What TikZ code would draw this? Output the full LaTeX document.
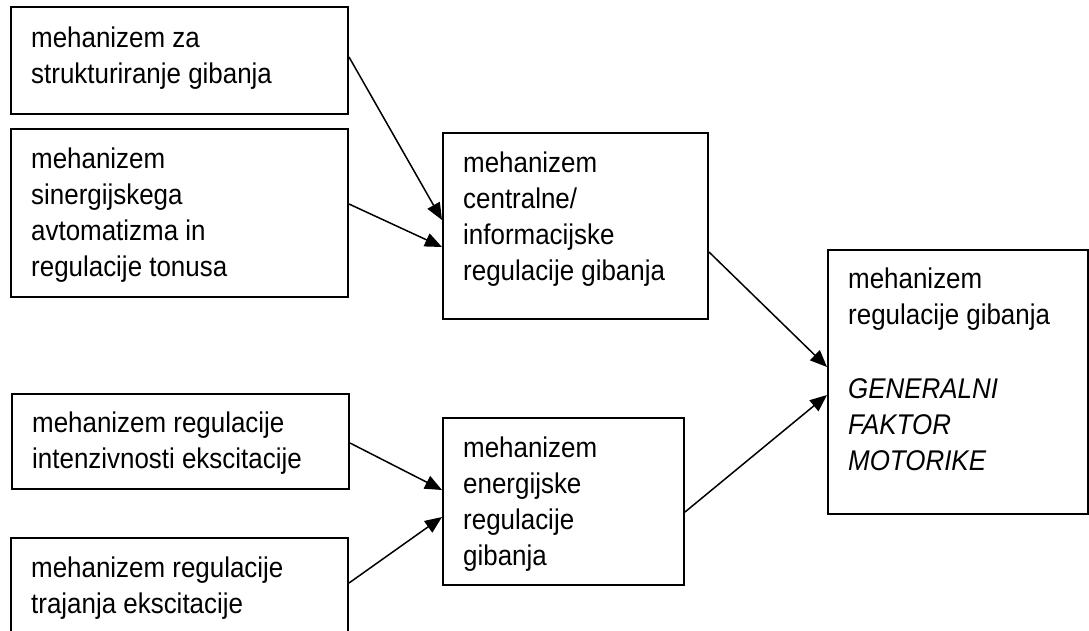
\documentclass[tikz,border=0pt]{standalone}
\usepackage{fontspec}
\setmainfont{Liberation Sans}[FakeStretch=0.91]
\usetikzlibrary{arrows.meta}
\tikzset{
  boxnode/.style={draw=black, line width=2pt, inner sep=0pt, anchor=north west, minimum width=#1},
  txt/.style={inner sep=0pt, anchor=north west, align=left, font=\fontsize{28.5}{36}\selectfont},
  conn/.style={line width=1.5pt, -{Triangle[length=17pt,width=14pt]}}
}
\newcommand{\topstrut}{\rule{0pt}{26pt}}
\begin{document}
\begin{tikzpicture}[x=1pt,y=-1pt]
\useasboundingbox (0,0) rectangle (1089,630);
\clip (0,0) rectangle (1089,630);
\fill[white] (0,0) rectangle (1089,630);
% boxes
\node[boxnode=337pt, minimum height=107pt] (b1) at (10,6) {};
\node[boxnode=337pt, minimum height=168pt] (b2) at (10,128) {};
\node[boxnode=265pt, minimum height=186pt] (b3) at (442,132) {};
\node[boxnode=260pt, minimum height=264pt] (b4) at (827,249) {};
\node[boxnode=337pt, minimum height=95pt] (b5) at (11,393) {};
\node[boxnode=241pt, minimum height=167pt] (b6) at (442,417) {};
\node[boxnode=337pt, minimum height=130pt] (b7) at (10,537) {};
% texts
\node[txt] (t1) at ([xshift=21pt,yshift=-15pt]b1.north west) {\topstrut mehanizem za\\strukturiranje gibanja};
\node[txt] (t2) at ([xshift=21pt,yshift=-14pt]b2.north west) {\topstrut mehanizem\\sinergijskega\\avtomatizma in\\regulacije tonusa};
\node[txt] (t3) at ([xshift=21pt,yshift=-14pt]b3.north west) {\topstrut mehanizem\\centralne/\\informacijske\\regulacije gibanja};
\node[txt] (t4) at ([xshift=21pt,yshift=-13pt]b4.north west) {\topstrut mehanizem\\regulacije gibanja\\[38pt]\itshape GENERALNI\\\itshape FAKTOR\\\itshape MOTORIKE};
\node[txt] (t5) at ([xshift=21pt,yshift=-13pt]b5.north west) {\topstrut mehanizem regulacije\\intenzivnosti ekscitacije};
\node[txt] (t6) at ([xshift=21pt,yshift=-14pt]b6.north west) {\topstrut mehanizem\\energijske\\regulacije\\gibanja};
\node[txt] (t7) at ([xshift=21pt,yshift=-14pt]b7.north west) {\topstrut mehanizem regulacije\\trajanja ekscitacije};
% connector endpoints
\coordinate (s1) at ([yshift=-51pt]b1.north east);
\coordinate (e1) at ([yshift=-88pt]b3.north west);
\coordinate (s2) at ([yshift=-76pt]b2.north east);
\coordinate (e2) at ([yshift=-115pt]b3.north west);
\coordinate (s3) at ([yshift=-120pt]b3.north east);
\coordinate (e3) at ([yshift=-118pt]b4.north west);
\coordinate (s4) at ([yshift=-95pt]b6.north east);
\coordinate (e4) at ([yshift=-146pt]b4.north west);
\coordinate (s5) at ([yshift=-50pt]b5.north east);
\coordinate (e5) at ([yshift=-73pt]b6.north west);
\coordinate (s6) at ([yshift=-46pt]b7.north east);
\coordinate (e6) at ([yshift=-100pt]b6.north west);
% connectors
\draw[conn] (s1) -- (e1);
\draw[conn] (s2) -- (e2);
\draw[conn] (s3) -- (e3);
\draw[conn] (s4) -- (e4);
\draw[conn] (s5) -- (e5);
\draw[conn] (s6) -- (e6);
\end{tikzpicture}
\end{document}
